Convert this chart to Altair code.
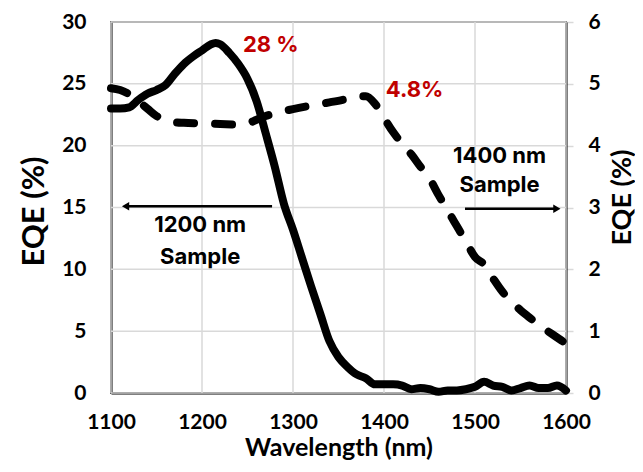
import altair as alt
import pandas as pd

# Solid line: 1200 nm sample (left axis, EQE %)
wl_1200 = [1100, 1110, 1120, 1130, 1140, 1150, 1160, 1170, 1180, 1190, 1200, 1210, 1215, 1220,
           1230, 1240, 1250, 1260, 1270, 1280, 1290, 1300, 1310, 1320, 1330, 1340, 1350, 1360,
           1370, 1380, 1390, 1400, 1410, 1420, 1430, 1440, 1450, 1460, 1470, 1480, 1490, 1500,
           1510, 1520, 1530, 1540, 1550, 1560, 1570, 1580, 1590, 1600]
eqe_1200 = [23.0, 23.0, 23.1, 23.7, 24.2, 24.5, 24.9, 25.8, 26.6, 27.2, 27.7, 28.2, 28.3, 28.2,
            27.5, 26.6, 25.4, 23.6, 21.0, 18.3, 15.3, 13.2, 10.9, 8.6, 6.4, 4.2, 2.9, 2.1,
            1.5, 1.2, 0.7, 0.7, 0.7, 0.6, 0.3, 0.4, 0.3, 0.1, 0.2, 0.2, 0.3, 0.5,
            0.9, 0.6, 0.5, 0.2, 0.4, 0.6, 0.4, 0.4, 0.6, 0.2]

# Dashed line: 1400 nm sample (right axis, EQE %)
wl_1400 = [1100, 1110, 1120, 1130, 1140, 1150, 1160, 1170, 1180, 1200, 1220, 1240, 1250, 1260,
           1270, 1280, 1290, 1300, 1320, 1340, 1360, 1370, 1380, 1390, 1400, 1410, 1420, 1430,
           1440, 1450, 1460, 1470, 1480, 1490, 1500, 1510, 1520, 1530, 1540, 1550, 1560, 1570,
           1580, 1590, 1600]
eqe_1400 = [4.93, 4.90, 4.83, 4.72, 4.60, 4.48, 4.41, 4.38, 4.37, 4.36, 4.35, 4.34, 4.36, 4.42,
            4.48, 4.52, 4.56, 4.59, 4.65, 4.70, 4.76, 4.80, 4.80, 4.68, 4.45, 4.22, 4.03, 3.86,
            3.66, 3.47, 3.20, 2.95, 2.70, 2.45, 2.20, 2.08, 1.85, 1.64, 1.48, 1.34, 1.22, 1.10,
            1.00, 0.90, 0.80]

# Tick values
x_ticks = [1100, 1200, 1300, 1400, 1500, 1600]
yl_ticks = [0, 5, 10, 15, 20, 25, 30]
yr_ticks = [0, 1, 2, 3, 4, 5, 6]

# Annotations (left-axis coordinates)
red_labels = ["28 %", "4.8%"]
red_x = [1245, 1402]
red_y = [28.1, 24.5]

black_labels = ["1200 nm", "Sample", "1400 nm", "Sample"]
black_x = [1198, 1198, 1527, 1527]
black_y = [13.6, 11.0, 19.2, 16.8]

arrow_x = [1116, 1489]
arrow_x2 = [1277, 1590]
arrow_y = [15.1, 14.9]
head_x = [1116, 1590]
head_y = [15.1, 14.9]
head_shape = ["triangle-left", "triangle-right"]

df1 = pd.DataFrame({"wl": wl_1200, "eqe": eqe_1200})
df2 = pd.DataFrame({"wl": wl_1400, "eqe": eqe_1400})
dgx = pd.DataFrame({"x": x_ticks})
dgy = pd.DataFrame({"y": yl_ticks})
dred = pd.DataFrame({"x": red_x, "y": red_y, "t": red_labels})
dblack = pd.DataFrame({"x": black_x, "y": black_y, "t": black_labels})
darrow = pd.DataFrame({"x": arrow_x, "x2": arrow_x2, "y": arrow_y})
dhead = pd.DataFrame({"x": head_x, "y": head_y, "s": head_shape})

FONT = "Lato"
AFONT = "Inter"
GRID = "#d9d9d9"

xscale = alt.Scale(domain=[1100, 1600], nice=False)
yleft = alt.Scale(domain=[0, 30], nice=False)
yright = alt.Scale(domain=[0, 6], nice=False)

xaxis = alt.Axis(values=x_ticks, format="d", title="Wavelength (nm)", grid=False, ticks=False,
                 labelFlush=False, domainColor="black", domainWidth=2, labelPadding=18,
                 titleFontSize=25, titleY=62, titleBaseline="alphabetic")
laxis = alt.Axis(values=yl_ticks, title="EQE (%)", grid=False, ticks=False,
                 domainColor="black", domainWidth=2, labelPadding=25,
                 titleFontSize=31, titleX=-77, titleY=189,
                 titleBaseline="middle", titleAngle=270)
raxis = alt.Axis(values=yr_ticks, title="EQE (%)", orient="right", grid=False,
                 ticks=True, tickSize=7, tickColor=GRID, tickWidth=1.5, domainColor="black",
                 domainWidth=2, labelPadding=15, titleFontSize=27, titleX=56, titleY=175,
                 titleBaseline="middle", titleAngle=270)

gridx = alt.Chart(dgx).mark_rule(color=GRID, strokeWidth=1.5).encode(
    x=alt.X("x:Q", scale=xscale, axis=xaxis))
gridy = alt.Chart(dgy).mark_rule(color=GRID, strokeWidth=1.5).encode(
    y=alt.Y("y:Q", scale=yleft, axis=laxis))

solid = alt.Chart(df1).mark_line(color="black", strokeWidth=8, strokeCap="round",
                                 strokeJoin="round", interpolate="monotone").encode(
    x=alt.X("wl:Q", scale=xscale),
    y=alt.Y("eqe:Q", scale=yleft),
)

red_text = alt.Chart(dred).mark_text(color="#C00000", font=AFONT, fontSize=22, fontWeight="bold",
                                     align="left", baseline="middle").encode(
    x=alt.X("x:Q", scale=xscale), y=alt.Y("y:Q", scale=yleft), text="t:N")

black_text = alt.Chart(dblack).mark_text(color="black", font=AFONT, fontSize=22,
                                         fontWeight="bold", align="center",
                                         baseline="middle").encode(
    x=alt.X("x:Q", scale=xscale), y=alt.Y("y:Q", scale=yleft), text="t:N")

arrows = alt.Chart(darrow).mark_rule(color="black", strokeWidth=2.5).encode(
    x=alt.X("x:Q", scale=xscale), x2="x2:Q", y=alt.Y("y:Q", scale=yleft))

heads = alt.Chart(dhead).mark_point(filled=True, color="black", opacity=1, size=70).encode(
    x=alt.X("x:Q", scale=xscale), y=alt.Y("y:Q", scale=yleft),
    shape=alt.Shape("s:N", scale=None))

left_layer = alt.layer(gridx, gridy, solid, arrows, heads, red_text, black_text)

dashed = alt.Chart(df2).mark_line(color="black", strokeWidth=8, strokeDash=[17, 21],
                                  strokeCap="round", strokeJoin="round",
                                  interpolate="monotone").encode(
    x=alt.X("wl:Q", scale=xscale),
    y=alt.Y("eqe:Q", scale=yright, axis=raxis),
)

chart = alt.layer(left_layer, dashed).resolve_scale(y="independent").properties(
    width=455, height=371,
    autosize=alt.AutoSizeParams(type="none"),
    padding={"left": 103, "top": 14, "right": 69, "bottom": 69},
).configure_axis(
    labelFont=FONT, labelFontSize=21, labelFontWeight="bold", labelColor="black",
    titleFont=FONT, titleFontWeight="bold", titleColor="black",
).configure_view(stroke="#222222", strokeWidth=1.5)

chart.save("out.html", embed_options={"renderer": "svg", "actions": False})
